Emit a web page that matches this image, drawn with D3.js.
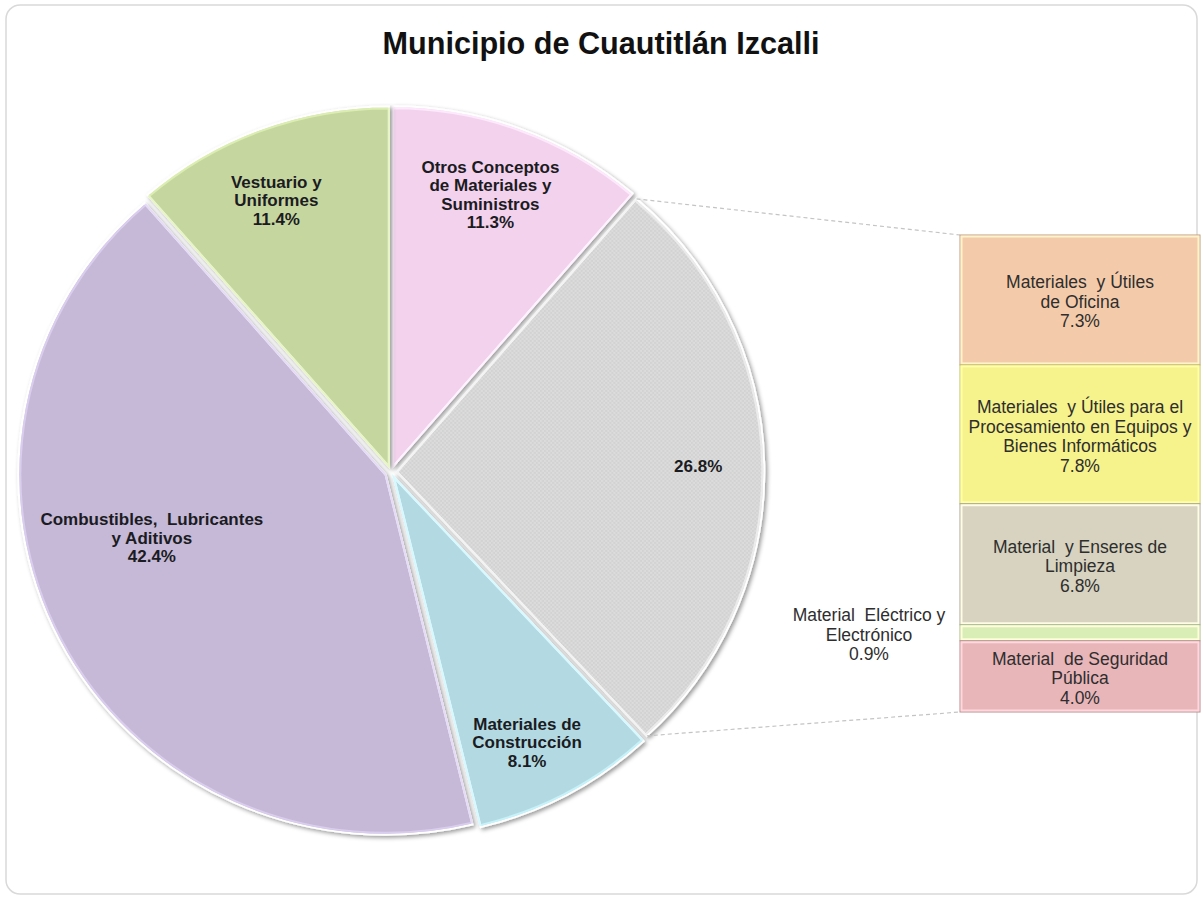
<!DOCTYPE html>
<html>
<head>
<meta charset="utf-8">
<script src="https://cdn.jsdelivr.net/npm/d3@7"></script>
<style>
  html, body { margin: 0; padding: 0; background: #ffffff; }
  svg { display: block; font-family: "Liberation Sans", Arial, Helvetica, sans-serif; }
</style>
</head>
<body>
<svg id="chart" width="1203" height="901"></svg>
<script>
// ---------- data ----------
const title = "Municipio de Cuautitlán Izcalli";

const pieCategories = [
  "Otros Conceptos de Materiales y Suministros",
  "Otros",
  "Materiales de Construcción",
  "Combustibles, Lubricantes y Aditivos",
  "Vestuario y Uniformes"
];
const pieValues = [11.3, 26.8, 8.1, 42.4, 11.4];
const pieLabelLines = [
  ["Otros Conceptos", "de Materiales y", "Suministros"],
  [],
  ["Materiales de", "Construcción"],
  ["Combustibles,  Lubricantes", "y Aditivos"],
  ["Vestuario y", "Uniformes"]
];
const pieColors = ["#f3d2ee", "#d4d4d4", "#b3dae2", "#c5b9d7", "#c6d69f"];

const barCategories = [
  "Materiales y Útiles de Oficina",
  "Materiales y Útiles para el Procesamiento en Equipos y Bienes Informáticos",
  "Material y Enseres de Limpieza",
  "Material Eléctrico y Electrónico",
  "Material de Seguridad Pública"
];
const barValues = [7.3, 7.8, 6.8, 0.9, 4.0];
const barLabelLines = [
  ["Materiales  y Útiles", "de Oficina"],
  ["Materiales  y Útiles para el", "Procesamiento en Equipos y", "Bienes Informáticos"],
  ["Material  y Enseres de", "Limpieza"],
  ["Material  Eléctrico y", "Electrónico"],
  ["Material  de Seguridad", "Pública"]
];
const barColors = ["#f4cbaa", "#f6f28c", "#d7d3c0", "#d9edb6", "#e8b5b9"];

// ---------- layout ----------
const svg = d3.select("#chart");
const W = 1203, H = 901;
const cx = 391, cy = 472, R = 360, sx = 1.02, explode = 6;
const fmt = v => d3.format(".1f")(v) + "%";

const defs = svg.append("defs");
const pat = defs.append("pattern").attr("id", "dots")
  .attr("width", 4).attr("height", 4).attr("patternUnits", "userSpaceOnUse");
pat.append("rect").attr("width", 4).attr("height", 4).attr("fill", "#d2d2d2");
pat.append("rect").attr("width", 2).attr("height", 2).attr("fill", "#dcdcdc");
pat.append("rect").attr("x", 2).attr("y", 2).attr("width", 2).attr("height", 2).attr("fill", "#dcdcdc");

const shadow = defs.append("filter").attr("id", "shadow")
  .attr("x", "-10%").attr("y", "-10%").attr("width", "130%").attr("height", "130%");
shadow.append("feDropShadow").attr("dx", 2).attr("dy", 2).attr("stdDeviation", 2)
  .attr("flood-color", "#000").attr("flood-opacity", 0.4);

// frame
svg.append("rect").attr("x", 6).attr("y", 5).attr("width", W - 12).attr("height", H - 12)
  .attr("rx", 14).attr("fill", "#fff").attr("stroke", "#d9d9d9").attr("stroke-width", 1.5);

// title
svg.append("text").attr("x", 601).attr("y", 54).attr("text-anchor", "middle")
  .attr("font-size", 31).attr("font-weight", "bold").attr("fill", "#111")
  .attr("textLength", 437).attr("lengthAdjust", "spacingAndGlyphs")
  .text(title);

// ---------- pie ----------
const pie = d3.pie().sort(null).value(d => d).startAngle(0).endAngle(2 * Math.PI);
const arcs = pie(pieValues);
const arc = d3.arc().innerRadius(0).outerRadius(R);
const offsetOf = a => {
  const m = (a.startAngle + a.endAngle) / 2;
  return [Math.sin(m) * explode, -Math.cos(m) * explode];
};

const pieG = svg.append("g").attr("transform", `translate(${cx},${cy}) scale(${sx},1)`);
const slices = pieG.selectAll("g.slice").data(arcs).enter().append("g")
  .attr("class", "slice")
  .attr("transform", d => { const o = offsetOf(d); return `translate(${o[0]},${o[1]})`; });
slices.append("path")
  .attr("d", arc)
  .attr("fill", (d, i) => i === 1 ? "url(#dots)" : pieColors[i])
  .attr("stroke", "#ffffff").attr("stroke-width", 2)
  .attr("filter", "url(#shadow)");
slices.append("path")
  .attr("d", d3.arc().innerRadius(0).outerRadius(R - 2))
  .attr("fill", "none")
  .attr("stroke", (d, i) => d3.color(pieColors[i]).brighter(0.35))
  .attr("stroke-width", 2).attr("opacity", 0.8);

// pie labels
const labelNudge = [[-1, -0.02], [0, 0], [2, 0], [12, -0.16], [-2, -0.02]]; // [deg, radius factor]
const pieLineH = 18.5;
arcs.forEach((a, i) => {
  const o = offsetOf(a);
  const m = (a.startAngle + a.endAngle) / 2 + labelNudge[i][0] * Math.PI / 180;
  const r = R * (0.82 + labelNudge[i][1]);
  const px = cx + (Math.sin(m) * r + o[0]) * sx;
  const py = cy - Math.cos(m) * r + o[1];
  const lines = pieLabelLines[i].concat([fmt(pieValues[i])]);
  const t = svg.append("text").attr("text-anchor", "middle")
    .attr("font-size", 17).attr("font-weight", "bold").attr("fill", "#1b1b22");
  lines.forEach((ln, k) => {
    t.append("tspan").attr("x", px)
      .attr("y", py + (k - (lines.length - 1) / 2) * pieLineH + 6)
      .attr("xml:space", "preserve")
      .text(ln);
  });
});

// ---------- bar of pie ----------
const barX0 = 960, barX1 = 1200;
const barTop = 235, barBottom = 712;
const total = d3.sum(barValues);
const y = d3.scaleLinear().domain([0, total]).range([barTop, barBottom]);
const cum = [];
barValues.reduce((acc, v, i) => { cum[i] = acc; return acc + v; }, 0);

// connector lines from the gray slice edges
const other = arcs[1];
const oo = offsetOf(other);
const corner = ang => [cx + (Math.sin(ang) * R + oo[0]) * sx, cy - Math.cos(ang) * R + oo[1]];
const c1 = corner(other.startAngle), c2 = corner(other.endAngle);
svg.append("line").attr("x1", c1[0]).attr("y1", c1[1]).attr("x2", barX0).attr("y2", y(0))
  .attr("stroke", "#c4c4c4").attr("stroke-width", 1.2).attr("stroke-dasharray", "4,3");
svg.append("line").attr("x1", c2[0]).attr("y1", c2[1]).attr("x2", barX0).attr("y2", y(total))
  .attr("stroke", "#c4c4c4").attr("stroke-width", 1.2).attr("stroke-dasharray", "4,3");

const barG = svg.append("g");
barValues.forEach((v, i) => {
  const y0 = y(cum[i]), y1 = y(cum[i] + v);
  barG.append("rect").attr("x", barX0).attr("y", y0)
    .attr("width", barX1 - barX0).attr("height", y1 - y0)
    .attr("fill", barColors[i])
    .attr("stroke", d3.color(barColors[i]).darker(0.7)).attr("stroke-width", 1);
  barG.append("rect").attr("x", barX0 + 1.5).attr("y", y0 + 1.5)
    .attr("width", barX1 - barX0 - 3).attr("height", Math.max(0, y1 - y0 - 3))
    .attr("fill", "none")
    .attr("stroke", d3.color(barColors[i]).brighter(0.5)).attr("stroke-width", 2);
});

// bar labels
const barLineH = 19.5;
barValues.forEach((v, i) => {
  const lines = barLabelLines[i].concat([fmt(v)]);
  const outside = v < 2;
  const px = outside ? barX0 - 91 : (barX0 + barX1) / 2;
  const py = (y(cum[i]) + y(cum[i] + v)) / 2 + 2;
  const t = svg.append("text").attr("text-anchor", "middle")
    .attr("font-size", 17.5).attr("fill", "#2e2e2e");
  lines.forEach((ln, k) => {
    t.append("tspan").attr("x", px)
      .attr("y", py + (k - (lines.length - 1) / 2) * barLineH + 6)
      .attr("xml:space", "preserve")
      .text(ln);
  });
});
</script>
</body>
</html>
